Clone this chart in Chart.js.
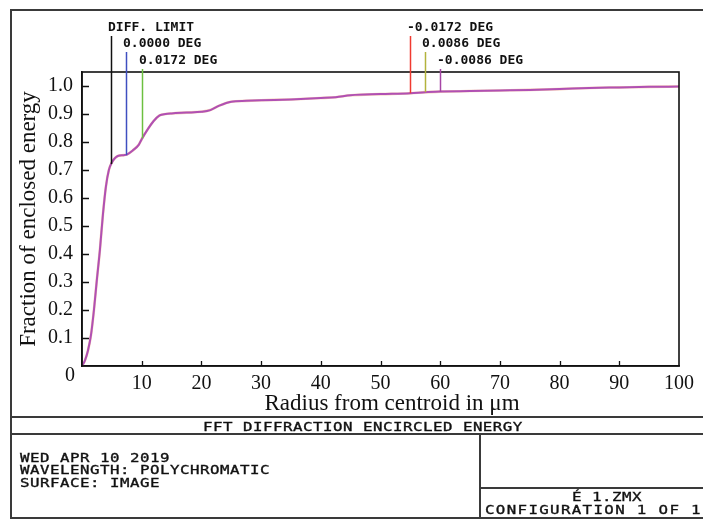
<!DOCTYPE html>
<html><head><meta charset="utf-8">
<script src="https://cdn.jsdelivr.net/npm/chart.js@4"></script>
<style>
html,body{margin:0;padding:0;background:#fff;overflow:hidden;}
#wrap{position:relative;width:703px;height:519px;overflow:hidden;}
canvas{position:absolute;left:0;top:0;}
.ln{position:absolute;background:#3a3a3a;}
.t{position:absolute;font-family:"DejaVu Sans Mono",monospace;font-size:13px;line-height:13px;color:#111;white-space:pre;letter-spacing:0.4px;transform:scaleX(1.215);transform-origin:left top;-webkit-text-stroke:0.35px #111;}
</style></head>
<body>
<div id="wrap">
<canvas id="c" width="703" height="519"></canvas>
<div class="ln" style="left:10px;top:9px;width:700px;height:2px"></div>
<div class="ln" style="left:10px;top:9px;width:2px;height:510px"></div>
<div class="ln" style="left:10px;top:517px;width:700px;height:2px"></div>
<div class="ln" style="left:10px;top:416px;width:700px;height:2px"></div>
<div class="ln" style="left:10px;top:433px;width:700px;height:2px"></div>
<div class="ln" style="left:479px;top:433px;width:2px;height:86px"></div>
<div class="ln" style="left:479px;top:487px;width:230px;height:2px"></div>
<div class="t" style="left:203px;top:419.5px">FFT DIFFRACTION ENCIRCLED ENERGY</div>
<div class="t" style="left:20px;top:450.7px">WED APR 10 2019</div>
<div class="t" style="left:20px;top:463.2px">WAVELENGTH: POLYCHROMATIC</div>
<div class="t" style="left:20px;top:475.7px">SURFACE: IMAGE</div>
<div class="t" style="left:572px;top:489.7px">É 1.ZMX</div>
<div class="t" style="left:485px;top:502.7px;letter-spacing:1.1px">CONFIGURATION 1 OF 1</div>
</div>
<script>
// ---- data ----
const radius   = [0,0.5,1,1.5,2,2.5,3,3.5,4,4.5,5,5.5,6,7,7.5,8.5,9.5,10,11,12,13,14,15,17.5,20,21.5,23,25,27.5,30,35,40,42.5,45,50,55,57.5,60,65,70,75,80,85,90,95,100];
const enclosed = [0,0.02,0.055,0.11,0.2,0.31,0.415,0.54,0.64,0.70,0.727,0.742,0.75,0.753,0.755,0.77,0.79,0.81,0.845,0.875,0.895,0.9,0.902,0.905,0.908,0.914,0.93,0.944,0.947,0.949,0.952,0.957,0.96,0.967,0.971,0.974,0.978,0.98,0.982,0.984,0.986,0.989,0.993,0.995,0.997,0.998];
const xTickValues = [0,10,20,30,40,50,60,70,80,90,100];
const yTickValues = [0,0.1,0.2,0.3,0.4,0.5,0.6,0.7,0.8,0.9,1.0];
const markerLabels = ['DIFF. LIMIT','0.0000 DEG','0.0172 DEG','-0.0172 DEG','0.0086 DEG','-0.0086 DEG'];
const markerRadius = [4.86,7.37,9.97,54.9,57.5,60.0];
const markerEnergy = [0.721,0.753,0.813,0.974,0.978,0.979];
const markerColors = ['#111111','#3f4fc0','#6cc040','#f03a30','#b3b33c','#a645a6'];

const points = radius.map((r,i)=>({x:r,y:enclosed[i]}));
const serif = 'Liberation Serif';

const framePlugin = {
  id:'frame',
  afterDraw(chart){
    const {ctx, chartArea:a, scales:{x,y}} = chart;
    ctx.save();
    ctx.strokeStyle = '#111'; ctx.lineWidth = 1.6;
    ctx.strokeRect(a.left, a.top, a.right-a.left, a.bottom-a.top);
    // inward ticks
    ctx.lineWidth = 1.3;
    ctx.beginPath();
    yTickValues.forEach(v=>{ if(v===0) return; const py=Math.round(y.getPixelForValue(v))+0.5; ctx.moveTo(a.left,py); ctx.lineTo(a.left+7,py); });
    xTickValues.forEach(v=>{ if(v===0||v===100) return; const px=Math.round(x.getPixelForValue(v))+0.5; ctx.moveTo(px,a.bottom); ctx.lineTo(px,a.bottom-5); });
    ctx.stroke();
    // origin label
    ctx.fillStyle = '#111';
    ctx.font = '20px "' + serif + '"';
    ctx.textAlign = 'center'; ctx.textBaseline = 'middle';
    ctx.fillText('0', a.left-12, a.bottom+10);
    // markers
    const tops = [36,52,69];
    ctx.font = 'bold 13px "DejaVu Sans Mono"';
    ctx.textAlign = 'left';
    markerLabels.forEach((lab,i)=>{
      const px = Math.round(x.getPixelForValue(markerRadius[i]))+0.5;
      const py = y.getPixelForValue(markerEnergy[i]);
      const top = tops[i%3];
      ctx.strokeStyle = markerColors[i]; ctx.lineWidth = 1.5;
      ctx.beginPath(); ctx.moveTo(px, top); ctx.lineTo(px, py); ctx.stroke();
      ctx.fillStyle = '#111';
      ctx.fillText(lab, px-3.5, top-8);
    });
    ctx.restore();
  }
};

new Chart(document.getElementById('c'), {
  type:'line',
  data:{datasets:[
    {data:points, borderColor:'#b050b4', borderWidth:2.0, pointRadius:0, cubicInterpolationMode:'monotone', fill:false, order:0},
    {data:points, borderColor:'rgba(232,140,90,0.45)', borderWidth:2.6, pointRadius:0, cubicInterpolationMode:'monotone', fill:false, order:1}
  ]},
  options:{
    responsive:false, animation:false,
    layout:{padding:{left:0,right:24,top:72,bottom:0}},
    plugins:{legend:{display:false}, tooltip:{enabled:false}},
    scales:{
      x:{type:'linear', min:0, max:100,
        afterFit(s){ s.height = 153; },
        afterBuildTicks(s){ s.ticks = xTickValues.map(v=>({value:v})); },
        ticks:{autoSkip:false, maxRotation:0, padding:6, color:'#111', font:{family:serif,size:20},
          callback:v=> v===0 ? '' : String(v)},
        grid:{drawOnChartArea:false, drawTicks:false},
        border:{display:true, color:'#111', width:1.6},
        title:{display:true, text:'\u00a0\u00a0\u00a0\u00a0Radius from centroid in μm', color:'#111', font:{family:serif,size:23}, padding:{top:0,bottom:101}}
      },
      y:{type:'linear', min:0, max:1.05,
        afterFit(s){ s.width = 82; },
        afterBuildTicks(s){ s.ticks = yTickValues.map(v=>({value:v})); },
        ticks:{autoSkip:false, padding:9, color:'#111', font:{family:serif,size:20},
          callback:v=> v===0 ? '' : v.toFixed(1)},
        grid:{drawOnChartArea:false, drawTicks:false},
        border:{display:true, color:'#111', width:1.6},
        title:{display:true, text:'Fraction of enclosed energy', color:'#111', font:{family:serif,size:23}, padding:{top:15,bottom:0}}
      }
    }
  },
  plugins:[framePlugin]
});
</script>
</body></html>
